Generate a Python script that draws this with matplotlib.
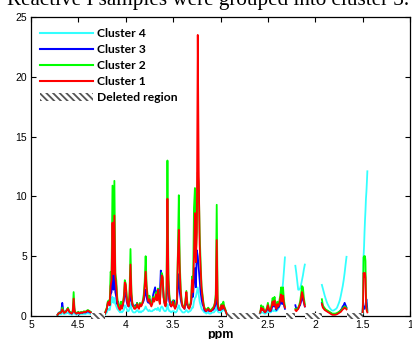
import numpy as np
import matplotlib
matplotlib.use("Agg")
import matplotlib.pyplot as plt
from matplotlib.patches import Rectangle, Patch
from matplotlib.lines import Line2D

# espectros promedio por cluster, tramos separados por regiones eliminadas
ppm_a = [4.72, 4.71, 4.70, 4.69, 4.68, 4.67, 4.66, 4.65, 4.64, 4.63, 4.62, 4.61,
         4.60, 4.59, 4.58, 4.57, 4.56, 4.55, 4.54, 4.53, 4.52, 4.51, 4.50, 4.49,
         4.48, 4.47, 4.46, 4.45, 4.44, 4.43, 4.42, 4.41, 4.40, 4.39, 4.38, 4.37]
c1_a = [0.10, 0.20, 0.25, 0.25, 0.30, 0.55, 0.40, 0.25, 0.30, 0.35, 0.50, 0.60,
        0.40, 0.30, 0.25, 0.20, 0.30, 1.45, 0.40, 0.25, 0.20, 0.25, 0.30, 0.20,
        0.25, 0.30, 0.25, 0.30, 0.35, 0.30, 0.35, 0.40, 0.45, 0.40, 0.35, 0.30]
c2_a = [0.10, 0.20, 0.30, 0.30, 0.35, 0.70, 0.45, 0.30, 0.35, 0.40, 0.55, 0.70,
        0.45, 0.35, 0.30, 0.25, 0.40, 2.00, 0.50, 0.30, 0.25, 0.30, 0.35, 0.25,
        0.30, 0.35, 0.30, 0.35, 0.40, 0.35, 0.40, 0.45, 0.50, 0.45, 0.40, 0.35]
c3_a = [0.10, 0.25, 0.30, 0.30, 0.40, 1.10, 0.50, 0.30, 0.35, 0.40, 0.55, 0.60,
        0.40, 0.30, 0.25, 0.20, 0.35, 1.00, 0.40, 0.25, 0.20, 0.25, 0.30, 0.20,
        0.25, 0.30, 0.25, 0.30, 0.30, 0.30, 0.30, 0.35, 0.40, 0.35, 0.30, 0.30]
c4_a = [0.05, 0.10, 0.15, 0.15, 0.15, 0.30, 0.20, 0.15, 0.20, 0.20, 0.25, 0.30,
        0.20, 0.15, 0.15, 0.10, 0.15, 0.50, 0.20, 0.15, 0.10, 0.15, 0.15, 0.10,
        0.15, 0.15, 0.15, 0.15, 0.20, 0.15, 0.20, 0.20, 0.25, 0.20, 0.20, 0.15]

ppm_b = np.round(np.arange(4.22, 2.925, -0.01), 2)
c1_b = [0.2, 0.4, 0.6, 1.1, 1.2, 0.9, 2.5, 3.0, 7.8, 3.5,
        8.4, 3.2, 2.5, 1.2, 0.8, 0.6, 0.5, 0.9, 0.6, 1.0,
        1.5, 2.8, 2.6, 1.5, 1.0, 0.8, 1.6, 4.3, 1.8, 1.0,
        0.8, 0.6, 0.6, 0.7, 1.0, 0.7, 0.6, 1.0, 0.8, 0.9,
        1.2, 1.5, 2.5, 3.7, 2.4, 1.5, 1.2, 1.4, 1.0, 0.8,
        1.0, 1.5, 1.2, 1.4, 1.8, 1.3, 2.2, 1.4, 1.0, 2.5,
        3.4, 3.2, 1.5, 1.0, 0.8, 1.5, 9.8, 3.0, 1.5, 1.0,
        0.8, 0.9, 1.2, 0.8, 0.6, 0.8, 1.2, 4.9, 7.2, 3.8,
        2.0, 1.2, 0.8, 0.7, 0.6, 1.2, 2.0, 1.0, 0.7, 0.6,
        0.8, 1.2, 3.0, 2.0, 5.0, 8.6, 4.5, 7.0, 23.5, 12.2,
        6.0, 4.0, 2.3, 1.6, 1.0, 0.6, 0.5, 0.4, 0.5, 0.6,
        0.5, 0.4, 0.4, 0.5, 0.6, 0.7, 1.0, 1.5, 6.35, 1.0,
        0.6, 0.5, 0.5, 0.9, 0.6, 0.9, 0.7, 0.5, 0.3, 0.1]
c2_b = [0.2, 0.5, 0.7, 1.2, 1.3, 1.0, 3.7, 3.5, 10.9, 3.7,
        11.3, 3.6, 3.0, 1.6, 1.0, 0.9, 0.6, 1.2, 0.8, 1.1,
        1.7, 3.0, 2.7, 1.7, 1.2, 0.9, 2.0, 5.6, 2.0, 1.1,
        0.9, 0.7, 0.7, 0.8, 1.1, 0.8, 0.7, 1.1, 0.9, 1.0,
        1.3, 1.8, 2.9, 5.0, 2.6, 1.8, 1.3, 1.7, 1.1, 1.2,
        1.1, 1.6, 1.3, 1.6, 2.0, 1.4, 2.3, 1.5, 1.1, 2.6,
        3.6, 3.3, 1.6, 1.1, 0.9, 2.0, 13.0, 3.5, 1.8, 1.1,
        0.9, 1.0, 1.3, 0.9, 0.7, 1.0, 1.5, 5.2, 10.1, 4.5,
        2.3, 1.3, 0.9, 0.8, 0.7, 1.4, 2.1, 1.1, 0.8, 0.7,
        0.9, 1.4, 3.3, 2.2, 9.0, 10.7, 5.0, 7.2, 12.0, 11.0,
        7.0, 4.5, 2.5, 1.8, 1.1, 0.7, 0.6, 0.5, 0.6, 0.7,
        0.6, 0.5, 0.5, 0.6, 0.7, 0.8, 1.1, 1.8, 9.3, 1.2,
        0.7, 0.6, 0.6, 1.0, 0.7, 1.2, 0.8, 0.6, 0.3, 0.1]
c3_b = [0.2, 0.4, 0.6, 1.0, 1.1, 0.9, 1.8, 2.0, 4.5, 2.2,
        4.8, 2.0, 1.6, 1.0, 1.2, 0.8, 0.6, 1.0, 0.7, 0.9,
        1.3, 2.0, 1.9, 1.2, 0.9, 0.8, 1.2, 2.6, 1.3, 0.9,
        0.8, 0.7, 0.9, 0.8, 1.1, 0.8, 0.7, 1.0, 0.9, 1.0,
        1.1, 1.3, 1.8, 2.2, 1.6, 1.2, 1.1, 1.2, 1.0, 1.1,
        1.3, 1.8, 2.1, 2.4, 1.6, 2.0, 2.2, 1.5, 1.8, 3.8,
        3.0, 2.5, 1.6, 1.1, 0.9, 1.3, 4.0, 2.0, 1.2, 0.9,
        0.8, 1.2, 1.3, 1.3, 0.7, 0.8, 1.1, 2.5, 3.5, 2.0,
        1.4, 1.0, 0.8, 0.7, 0.6, 1.0, 1.5, 0.9, 0.7, 0.9,
        0.9, 1.1, 2.0, 1.6, 3.0, 4.0, 2.4, 5.5, 5.0, 4.0,
        3.0, 2.0, 1.4, 1.0, 0.8, 0.5, 0.4, 0.4, 0.5, 0.5,
        0.4, 0.4, 0.4, 0.5, 0.5, 0.6, 0.8, 1.0, 2.5, 0.8,
        0.5, 0.5, 0.5, 0.8, 0.6, 0.8, 0.6, 0.5, 0.3, 0.1]
c4_b = [0.1, 0.2, 0.3, 0.5, 0.6, 0.5, 0.9, 1.2, 1.6, 1.1,
        1.5, 1.0, 0.8, 0.6, 0.5, 0.4, 0.3, 0.4, 0.3, 0.4,
        0.5, 0.9, 0.8, 0.6, 0.4, 0.4, 0.6, 1.0, 0.6, 0.4,
        0.3, 0.3, 0.3, 0.4, 0.5, 0.4, 0.3, 0.4, 0.3, 0.4,
        0.4, 0.5, 0.6, 0.8, 0.6, 0.5, 0.4, 0.5, 0.4, 0.4,
        0.4, 0.5, 0.5, 0.6, 0.6, 0.5, 0.7, 0.5, 0.4, 0.7,
        0.8, 0.7, 0.5, 0.4, 0.4, 0.5, 1.0, 0.6, 0.4, 0.4,
        0.3, 0.4, 0.4, 0.4, 0.3, 0.3, 0.4, 0.7, 0.9, 0.6,
        0.5, 0.4, 0.3, 0.3, 0.3, 0.4, 0.5, 0.4, 0.3, 0.4,
        0.4, 0.5, 0.7, 0.7, 1.2, 1.5, 1.6, 2.0, 2.4, 1.8,
        1.2, 0.9, 0.6, 0.5, 0.4, 0.3, 0.3, 0.2, 0.3, 0.3,
        0.2, 0.2, 0.2, 0.3, 0.3, 0.3, 0.4, 0.5, 0.9, 0.4,
        0.3, 0.3, 0.3, 0.5, 0.4, 0.6, 0.5, 0.4, 0.2, 0.1]

ppm_c = np.round(np.arange(2.58, 2.315, -0.01), 2)
c1_c = [0.3, 0.7, 0.5, 0.6, 0.4, 0.3, 0.4, 0.6, 0.9, 0.6, 0.4, 0.5, 0.8, 1.2,
        0.9, 1.3, 0.8, 0.6, 1.0, 0.8, 1.0, 1.4, 1.8, 1.2, 1.7, 1.0, 0.7]
c2_c = [0.3, 0.9, 0.6, 0.8, 0.5, 0.4, 0.5, 0.7, 1.1, 0.7, 0.5, 0.6, 1.0, 1.5,
        1.1, 1.6, 1.0, 0.7, 1.2, 0.9, 1.2, 1.7, 2.4, 1.5, 2.4, 1.3, 0.8]
c3_c = [0.3, 0.6, 0.5, 0.5, 0.4, 0.3, 0.4, 0.5, 0.7, 0.5, 0.4, 0.4, 0.6, 0.9,
        0.8, 1.0, 0.7, 0.5, 0.8, 0.7, 0.8, 1.1, 1.3, 1.0, 1.2, 0.9, 0.6]
c4_c = [0.2, 0.3, 0.3, 0.3, 0.2, 0.2, 0.2, 0.3, 0.4, 0.3, 0.3, 0.3, 0.4, 0.5,
        0.4, 0.5, 0.4, 0.4, 0.5, 0.6, 0.8, 1.0, 1.4, 2.0, 2.8, 3.8, 4.9]

ppm_d = [2.21, 2.20, 2.19, 2.18, 2.17, 2.16, 2.15, 2.14, 2.13, 2.12, 2.11]
c1_d = [0.5, 0.4, 0.5, 0.6, 0.8, 1.0, 1.4, 2.0, 1.7, 1.2, 0.8]
c2_d = [0.6, 0.5, 0.6, 0.7, 0.9, 1.2, 1.8, 2.5, 2.4, 1.5, 1.0]
c3_d = [0.9, 0.6, 0.6, 0.6, 0.8, 0.9, 1.2, 1.6, 1.4, 1.1, 0.8]
c4_d = [4.2, 3.6, 2.9, 2.2, 2.2, 2.3, 2.6, 3.0, 3.4, 3.9, 4.3]

ppm_e = np.round(np.arange(1.93, 1.665, -0.01), 2)
c1_e = [1.0, 0.7, 0.6, 0.5, 0.45, 0.4, 0.35, 0.3, 0.25, 0.2, 0.15, 0.1, 0.1, 0.1,
        0.1, 0.12, 0.15, 0.2, 0.25, 0.3, 0.35, 0.45, 0.55, 0.6, 0.7, 0.65, 0.55]
c2_e = [1.4, 0.9, 0.75, 0.65, 0.55, 0.5, 0.45, 0.4, 0.35, 0.3, 0.25, 0.2, 0.2, 0.2,
        0.2, 0.22, 0.25, 0.3, 0.35, 0.4, 0.45, 0.55, 0.65, 0.7, 0.8, 0.75, 0.65]
c3_e = [1.1, 0.8, 0.7, 0.6, 0.5, 0.45, 0.4, 0.35, 0.3, 0.25, 0.2, 0.15, 0.15, 0.15,
        0.15, 0.18, 0.2, 0.25, 0.3, 0.4, 0.5, 0.6, 0.8, 0.9, 1.1, 0.9, 0.7]
c4_e = [2.6, 2.3, 2.0, 1.7, 1.45, 1.2, 1.0, 0.85, 0.7, 0.6, 0.5, 0.45, 0.45, 0.5,
        0.55, 0.6, 0.7, 0.9, 1.1, 1.35, 1.7, 2.1, 2.5, 3.0, 3.6, 4.3, 4.95]

ppm_f = [1.50, 1.495, 1.49, 1.485, 1.48, 1.475, 1.47, 1.465, 1.46, 1.455, 1.45]
c1_f = [0.3, 1.2, 3.6, 3.5, 3.3, 3.6, 3.2, 1.4, 0.6, 0.4, 0.3]
c2_f = [0.3, 1.5, 4.9, 5.0, 4.8, 5.0, 4.6, 2.0, 0.8, 0.5, 0.4]
c3_f = [0.3, 0.9, 0.8, 0.6, 0.6, 0.7, 0.9, 1.2, 1.4, 1.0, 0.5]
c4_f = [0.2, 2.5, 5.0, 5.8, 7.0, 8.0, 8.8, 9.8, 10.4, 11.2, 12.1]

# regiones eliminadas (ppm inicio, ppm fin)
deleted = [(4.37, 4.22), (2.93, 2.58), (2.31, 2.21), (2.11, 1.93), (1.67, 1.50)]

segments = [
    (ppm_a, c1_a, c2_a, c3_a, c4_a),
    (ppm_b, c1_b, c2_b, c3_b, c4_b),
    (ppm_c, c1_c, c2_c, c3_c, c4_c),
    (ppm_d, c1_d, c2_d, c3_d, c4_d),
    (ppm_e, c1_e, c2_e, c3_e, c4_e),
    (ppm_f, c1_f, c2_f, c3_f, c4_f),
]

col1 = "#ff0000"
col2 = "#00ff00"
col3 = "#0000ff"
col4 = "#33ffff"
hatch_col = "#555555"

plt.rcParams["hatch.linewidth"] = 1.3

fig = plt.figure(figsize=(4.12, 3.39), dpi=100)
ax = fig.add_axes([31 / 412, 23 / 339, 379 / 412, 299 / 339])

lw = 1.3
for ppm, c1, c2, c3, c4 in segments:
    ax.plot(ppm, c4, color=col4, lw=lw)
    ax.plot(ppm, c3, color=col3, lw=lw)
    ax.plot(ppm, c2, color=col2, lw=lw)
    ax.plot(ppm, c1, color=col1, lw=lw)

for x0, x1 in deleted:
    r = Rectangle((x1, -0.22), x0 - x1, 0.44, facecolor="white",
                  edgecolor=hatch_col, lw=0, hatch="\\\\\\\\\\",
                  clip_on=False, zorder=5)
    ax.add_patch(r)

ax.set_xlim(5, 1)
ax.set_ylim(0, 25)
ax.set_xticks([5, 4.5, 4, 3.5, 3, 2.5, 2, 1.5, 1])
ax.set_xticklabels(["5", "4.5", "4", "3.5", "3", "2.5", "2", "1.5", "1"])
ax.set_yticks([0, 5, 10, 15, 20, 25])
ax.tick_params(direction="in", top=True, right=True, length=3.5, width=0.8,
               labelsize=7.5, pad=3)
for lab in ax.get_xticklabels() + ax.get_yticklabels():
    lab.set_family("Liberation Sans")
for s in ax.spines.values():
    s.set_linewidth(0.9)

handles = [
    Line2D([], [], color=col4, lw=1.5),
    Line2D([], [], color=col3, lw=1.5),
    Line2D([], [], color=col2, lw=1.5),
    Line2D([], [], color=col1, lw=1.5),
    Patch(facecolor="white", edgecolor=hatch_col, lw=0, hatch="\\\\\\\\\\"),
]
labels = ["Cluster 4", "Cluster 3", "Cluster 2", "Cluster 1", "Deleted region"]
ax.legend(handles, labels, loc="upper left", bbox_to_anchor=(0.024, 0.963),
          frameon=False, borderaxespad=0, borderpad=0, handlelength=4.4,
          handletextpad=0.33, labelspacing=0.42,
          prop={"family": "Lato", "weight": "bold", "size": 8.7})

fig.text(7 / 412, 1 - 5 / 339, "Reactive I samples were grouped into cluster 3.",
         family="Liberation Serif", fontsize=15.2, va="baseline", ha="left")
fig.text(220 / 412, 1 - 338 / 339, "ppm", family="Liberation Sans",
         fontweight="bold", fontsize=9, va="baseline", ha="center")

fig.savefig("out.png", dpi=100)
